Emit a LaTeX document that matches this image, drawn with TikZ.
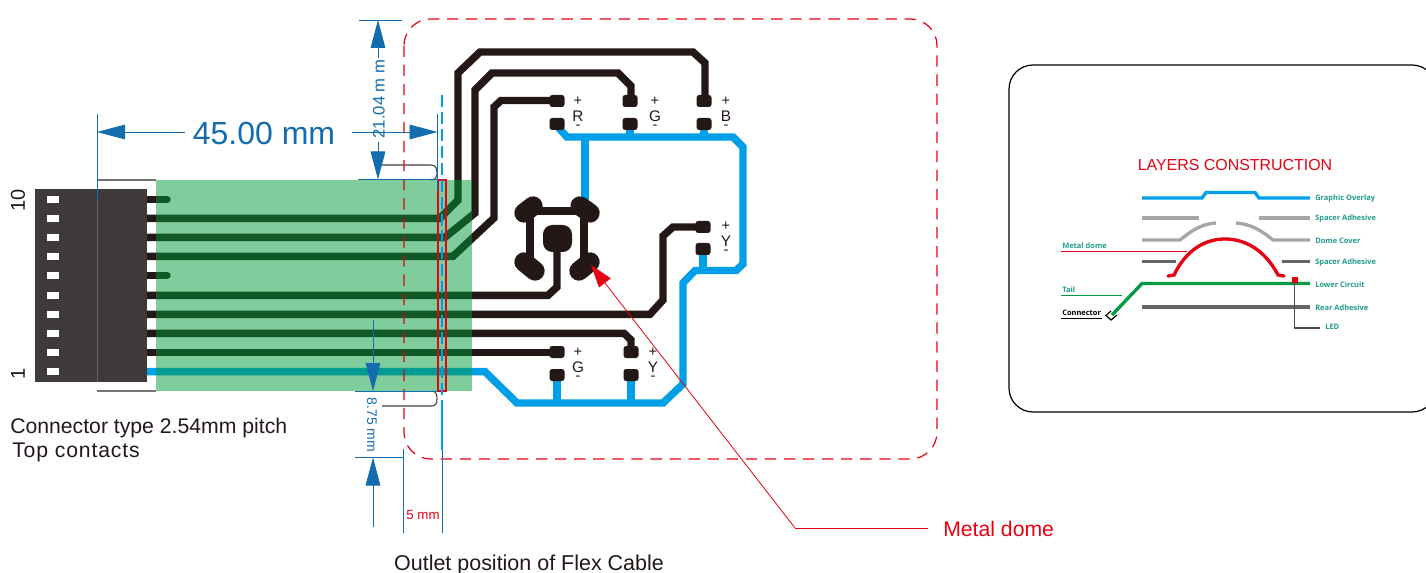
\documentclass[tikz,border=0pt]{standalone}
\usepackage{fontspec}
\setmainfont{Liberation Sans}
\newfontfamily\labelfont{Open Sans}
\usetikzlibrary{arrows.meta}
\definecolor{traceblack}{RGB}{35,24,21}
\definecolor{tracecyan}{RGB}{0,160,233}
\definecolor{dimblue}{RGB}{18,108,174}
\definecolor{flexgreen}{RGB}{0,153,58}
\definecolor{outlinered}{RGB}{230,0,18}
\definecolor{bodygrey}{RGB}{62,58,57}
\definecolor{teallabel}{RGB}{30,155,140}
\definecolor{layergreen}{RGB}{0,153,68}
\tikzset{
    trace/.style={traceblack, line width=5.6pt, line join=miter},
    cyantrace/.style={tracecyan, line width=5.6pt, line join=miter},
    pad/.style={fill=traceblack, rounded corners=2pt},
    lobe/.style={traceblack, line width=14.5pt, line cap=round},
    dimline/.style={dimblue, line width=0.6pt},
    dimtip/.style={dimblue, line width=0.6pt, -{Triangle[length=21pt, width=11pt]}},
    layerlabel/.style={teallabel, font=\labelfont\bfseries\fontsize{5.6}{6}\selectfont, anchor=west, inner sep=0pt},
    layer/.style={line width=2.5pt},
    tabedge/.style={draw=black!75, line width=0.8pt, fill=white}
}

\begin{document}
\begin{tikzpicture}[x=0.75pt, y=-0.75pt]
    \useasboundingbox (0,0) rectangle (1426,573);

    % Flex tail outline
    \draw[tabedge] (382,165) -- (431,165) .. controls (436,165) and (437,169) .. (437,172) .. controls (437,176) and (436,180) .. (431,180);
    \draw[tabedge] (382,406) -- (432,406) .. controls (436,406) and (437,403) .. (437,399) .. controls (437,395) and (436,391) .. (432,391);
    \draw[black!55, line width=0.9pt] (97,180) -- (156,180);
    \draw[black!55, line width=0.9pt] (97,391) -- (156,391);

    % Traces
    \draw[trace, line cap=round] (147,199.3) -- (167,199.3);
    \draw[trace, line cap=round] (147,275.3) -- (167,275.3);
    \draw[trace] (147,218.3) -- (440,218.3) -- (458,200) -- (458,73) -- (480,52) -- (693,52) -- (705,63) -- (705,101);
    \draw[trace] (147,237.3) -- (445,237.3) -- (475,213) -- (475,90) -- (492,73) -- (618,73) -- (631,86) -- (631,101);
    \draw[trace] (147,256.3) -- (453,256.3) -- (494,218) -- (494,107) -- (501,100.5) -- (555,100.5);
    \draw[trace] (147,295.3) -- (548,295.3) -- (557,287) -- (557,240);
    \draw[trace] (147,314.3) -- (650,314.3) -- (663,300) -- (663,236) -- (673,227) -- (703,227);
    \draw[trace] (147,333.3) -- (624,333.3) -- (631,340) -- (631,352);
    \draw[trace] (147,352.3) -- (557,352.3);

    % Common line
    \draw[cyantrace] (147,371.7) -- (485,371.7) -- (517,403) -- (663,403) -- (683,384) -- (683,283) -- (695,270.5) -- (736,270.5) -- (743,264) -- (743,147) -- (733,137) -- (567,137) -- (556,125);
    \draw[cyantrace] (585,137) -- (585,205);
    \foreach \x in {630,704} \draw[cyantrace] (\x,137) -- (\x,124);
    \foreach \x in {557,631} \draw[cyantrace] (\x,403) -- (\x,375);
    \draw[cyantrace] (703,270) -- (703,249);

    % Pads
    \foreach \x/\y in {557/101,630/101,704/101,557/124,630/124,704/124,703/227,703/249,557/352,631/352,557/375,631/375}
        \fill[pad] (\x-7.5,\y-6) rectangle (\x+7.5,\y+6);

    % Dome contacts
    \draw[traceblack, line width=6.5pt] (530,262) -- (530,211) -- (584,211) -- (584,262);
    \draw[lobe] (533,206) -- (524,213);
    \draw[lobe] (580,206) -- (590,213);
    \draw[lobe] (524,262) -- (535,271);
    \draw[lobe] (590,262) -- (579,271);
    \fill[traceblack, rounded corners=7pt] (543,225) rectangle (572,252);

    % Connector
    \fill[bodygrey] (35,189) rectangle (147,382);
    \foreach \y in {199.3,218.3,237.3,256.3,275.3,295.3,314.3,333.3,352.3,371.7}
        \fill[white] (47,\y-3.5) rectangle (59,\y+3.5);
    \draw[black!60, line width=0.6pt] (97,189) -- (97,382);

    % Flex tail
    \fill[flexgreen, opacity=0.5] (156,180) rectangle (472,391);

    % Outline of the panel
    \draw[outlinered, line width=0.9pt, dash pattern=on 8.5pt off 5.8pt, rounded corners=20pt] (404,19) rectangle (937,459);

    % Outlet position
    \draw[outlinered, line width=0.9pt] (438,180) rectangle (446,391);
    \draw[tracecyan, line width=0.8pt, dash pattern=on 9pt off 3.7pt] (442,95) -- (442,397);
    \draw[tracecyan, line width=0.8pt] (442,400) -- (442,450);
    \draw[dimline] (442,450) -- (442,533);
    \draw[dimline] (403.6,449) -- (403.6,533);

    % Dimensions
    \draw[dimline] (97,114) -- (97,200);
    \draw[dimline] (437.5,114) -- (437.5,190);
    \draw[dimtip] (185,132) -- (97,132);
    \draw[dimtip] (352,132) -- (437.5,132);
    \node (widthlabel) at (264,133) [dimblue, font=\fontsize{24}{28}\selectfont, inner sep=0pt] {45.00 mm};

    \draw[dimline] (359,20) -- (402,20);
    \draw[dimline] (358,179.8) -- (438,179.8);
    \draw[dimtip] (378,58) -- (378,20);
    \draw[dimtip] (378,142) -- (378,179.5);
    \node (heightlabel) at (379,99) [dimblue, rotate=90, font=\fontsize{12.5}{15}\selectfont, inner sep=0pt] {21.04 m m};

    \draw[dimline] (355,391) -- (438,391);
    \draw[dimline] (355,457.5) -- (404,457.5);
    \draw[dimtip] (373,320) -- (373,391);
    \draw[dimtip] (373,527) -- (373,457.5);
    \node (offsetlabel) at (372,425) [dimblue, rotate=-90, font=\fontsize{10.5}{12}\selectfont, inner sep=0pt] {8.75 mm};
    \node (outletwidth) at (423,515) [outlinered, font=\fontsize{10}{12}\selectfont, inner sep=0pt] {5 mm};

    % Pad marks
    \foreach \x/\y/\name in {578/116/R,655/116/G,726/116/B,726/241/Y,578/367/G,653/367/Y} {
        \node at (\x,\y-14.5) [traceblack, font=\fontsize{11}{12}\selectfont, inner sep=0pt] {+};
        \node at (\x,\y) [traceblack, font=\fontsize{11.5}{14}\selectfont, inner sep=0pt] {\name};
        \node at (\x,\y+11.5) [traceblack, font=\fontsize{11}{12}\selectfont, inner sep=0pt] {-};
    }

    % Metal dome callout
    \coordinate (elbow) at (795,528);
    \node (domelabel) at (943,529) [outlinered, anchor=west, font=\fontsize{15.9}{18}\selectfont, inner sep=0pt] {Metal dome};
    \draw[outlinered, line width=0.6pt] (928,528) -- (elbow);
    \draw[outlinered, line width=0.6pt, -{Triangle[length=17pt, width=11pt]}] (elbow) -- (591,265);

    % Texts
    \node (pinten) at (18,200) [traceblack, rotate=90, font=\fontsize{15}{18}\selectfont, inner sep=0pt] {10};
    \node (pinone) at (18,374) [traceblack, rotate=90, font=\fontsize{15}{18}\selectfont, inner sep=0pt] {1};
    \node (conntype) at (10,428.5) [traceblack, anchor=west, font=\fontsize{15.9}{18}\selectfont, inner sep=0pt] {Connector type 2.54mm pitch};
    \node (contacts) at (12,452.5) [traceblack, anchor=west, font=\fontsize{15.9}{18}\selectfont\addfontfeature{LetterSpace=4}, inner sep=0pt] {Top contacts};
    \node (outlet) at (529,565) [traceblack, font=\fontsize{16.1}{18}\selectfont, inner sep=0pt] {Outlet position of Flex Cable};

    % Layers
    \draw[black, line width=0.9pt, rounded corners=18pt] (1009,65) rectangle (1436,412);
    \node (layerstitle) at (1235,165) [outlinered, font=\fontsize{11.95}{14}\selectfont, inner sep=0pt] {LAYERS CONSTRUCTION};
    \draw[layer, tracecyan] (1142,198) -- (1202,198) -- (1206,192.5) -- (1255,192.5) -- (1259,198) -- (1310,198);
    \draw[layer, black!35] (1142,218) -- (1199,218);
    \draw[layer, black!35] (1259,218) -- (1310,218);
    \draw[layer, black!35] (1142,240) -- (1180,240) .. controls (1190,232) and (1200,224) .. (1216,223);
    \draw[layer, black!35] (1236,223) .. controls (1252,224) and (1263,232) .. (1273,240) -- (1310,240);
    \draw[layer, black!60] (1142,261.5) -- (1176,261.5);
    \draw[layer, black!60] (1282,261.5) -- (1310,261.5);
    \draw[layer, outlinered, line cap=round] (1168,276) -- (1174,275) .. controls (1186,250) and (1205,239) .. (1225,239) .. controls (1245,239) and (1265,250) .. (1278,275) -- (1284,276);
    \draw[layer, layergreen] (1112,315) -- (1142,283.5) -- (1310,283.5);
    \draw[layer, black!60] (1142,307) -- (1310,307);
    \draw[black, line width=0.9pt] (1111,311) -- (1106,315.5) -- (1111,320) -- (1117,315);
    \node (led) at (1294.5,280) [fill=outlinered, minimum size=4.5pt, inner sep=0pt] {};
    \draw[black!70, line width=0.8pt] (led.south) -- (1294.5,328) -- (1320,328);
    \draw[outlinered, line width=0.5pt] (1061,251) -- (1187,251);
    \draw[layergreen, line width=0.5pt] (1061,295) -- (1122,295);
    \draw[black, line width=0.5pt] (1061,318) -- (1102,318);
    \foreach \y/\name in {199/Graphic Overlay,219/Spacer Adhesive,241/Dome Cover,262.5/Spacer Adhesive,285/Lower Circuit,308/Rear Adhesive}
        \node at (1315,\y) [layerlabel] {\name};
    \node (ledlabel) at (1325,327) [layerlabel] {LED};
    \node (domemark) at (1062,245.5) [layerlabel] {Metal dome};
    \node (tailmark) at (1062,289.5) [layerlabel] {Tail};
    \node (connmark) at (1062,312.5) [layerlabel, black] {Connector};
\end{tikzpicture}
\end{document}
